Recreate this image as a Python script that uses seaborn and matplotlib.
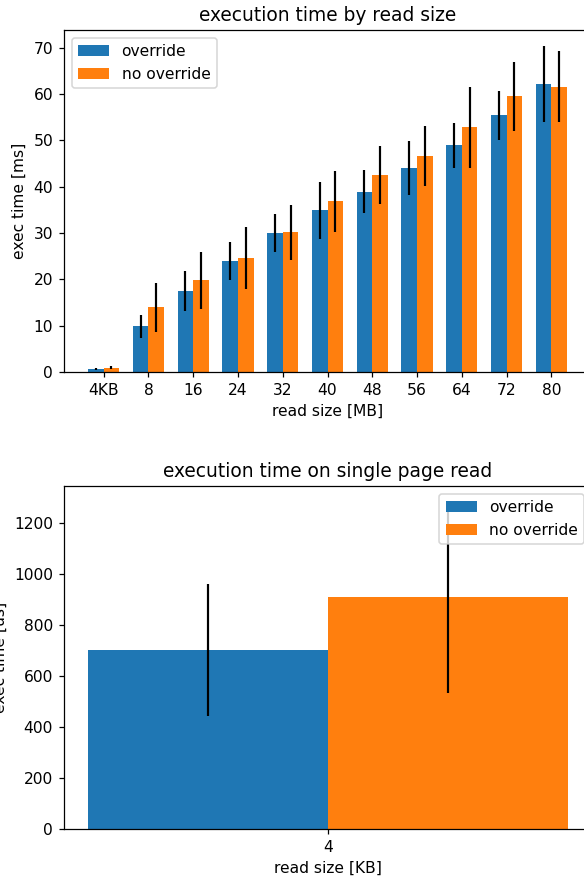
import matplotlib
matplotlib.use("Agg")
import matplotlib.pyplot as plt
import seaborn as sns
import pandas as pd

# ---- data ----
series = ["override", "no override"]
colors = ["#1f77b4", "#ff7f0e"]

sizes_mb = ["4KB", "8", "16", "24", "32", "40", "48", "56", "64", "72", "80"]
override_ms = [0.7, 9.9, 17.5, 23.9, 30.0, 34.9, 38.9, 44.0, 48.9, 55.4, 62.1]
override_err_ms = [0.26, 2.5, 4.4, 4.1, 4.05, 6.2, 4.6, 5.75, 4.8, 5.25, 8.2]
no_override_ms = [0.91, 14.0, 19.8, 24.6, 30.2, 36.8, 42.5, 46.6, 52.8, 59.5, 61.6]
no_override_err_ms = [0.37, 5.3, 6.1, 6.7, 5.95, 6.5, 6.2, 6.5, 8.75, 7.45, 7.7]

sizes_kb = ["4"]
override_us = [702]
override_err_us = [260]
no_override_us = [908]
no_override_err_us = [373]

DPI = 112


def draw(ax, cats, vals, errs, title, xlabel, ylabel, loc):
    n = len(cats)
    df = pd.DataFrame({
        "size": list(cats) * 2,
        "series": [series[0]] * n + [series[1]] * n,
        "value": list(vals[0]) + list(vals[1]),
    })
    sns.barplot(data=df, x="size", y="value", hue="series", order=cats,
                hue_order=series, palette=colors, saturation=1, width=0.7,
                errorbar=None, linewidth=0, ax=ax)
    bar_containers = list(ax.containers)
    for container, err in zip(bar_containers, errs):
        xs = [p.get_x() + p.get_width() / 2 for p in container]
        ys = [p.get_height() for p in container]
        ax.errorbar(xs, ys, yerr=err, fmt="none", ecolor="k",
                    elinewidth=1.4, capsize=0)
    span = (n - 1) + 0.7
    ax.set_xlim(-0.35 - 0.05 * span, n - 1 + 0.35 + 0.05 * span)
    ax.set_ylim(bottom=0)
    ax.autoscale(axis="y")
    ax.set_title(title, fontsize=12)
    ax.set_xlabel(xlabel, fontsize=10)
    ax.set_ylabel(ylabel, fontsize=10)
    sns.move_legend(ax, loc, title=None, fontsize=10)


fig = plt.figure(figsize=(584 / DPI, 881 / DPI), dpi=DPI)
ax1 = fig.add_axes([64 / 584, 1 - 372 / 881, 527 / 584, 342 / 881])
ax2 = fig.add_axes([64 / 584, 1 - 829 / 881, 528 / 584, 343 / 881])

draw(ax1, sizes_mb, [override_ms, no_override_ms],
     [override_err_ms, no_override_err_ms],
     "execution time by read size", "read size [MB]", "exec time [ms]",
     "upper left")
draw(ax2, sizes_kb, [override_us, no_override_us],
     [override_err_us, no_override_err_us],
     "execution time on single page read", "read size [KB]", "exec time [us]",
     "upper right")

fig.savefig("out.png", dpi=DPI)
